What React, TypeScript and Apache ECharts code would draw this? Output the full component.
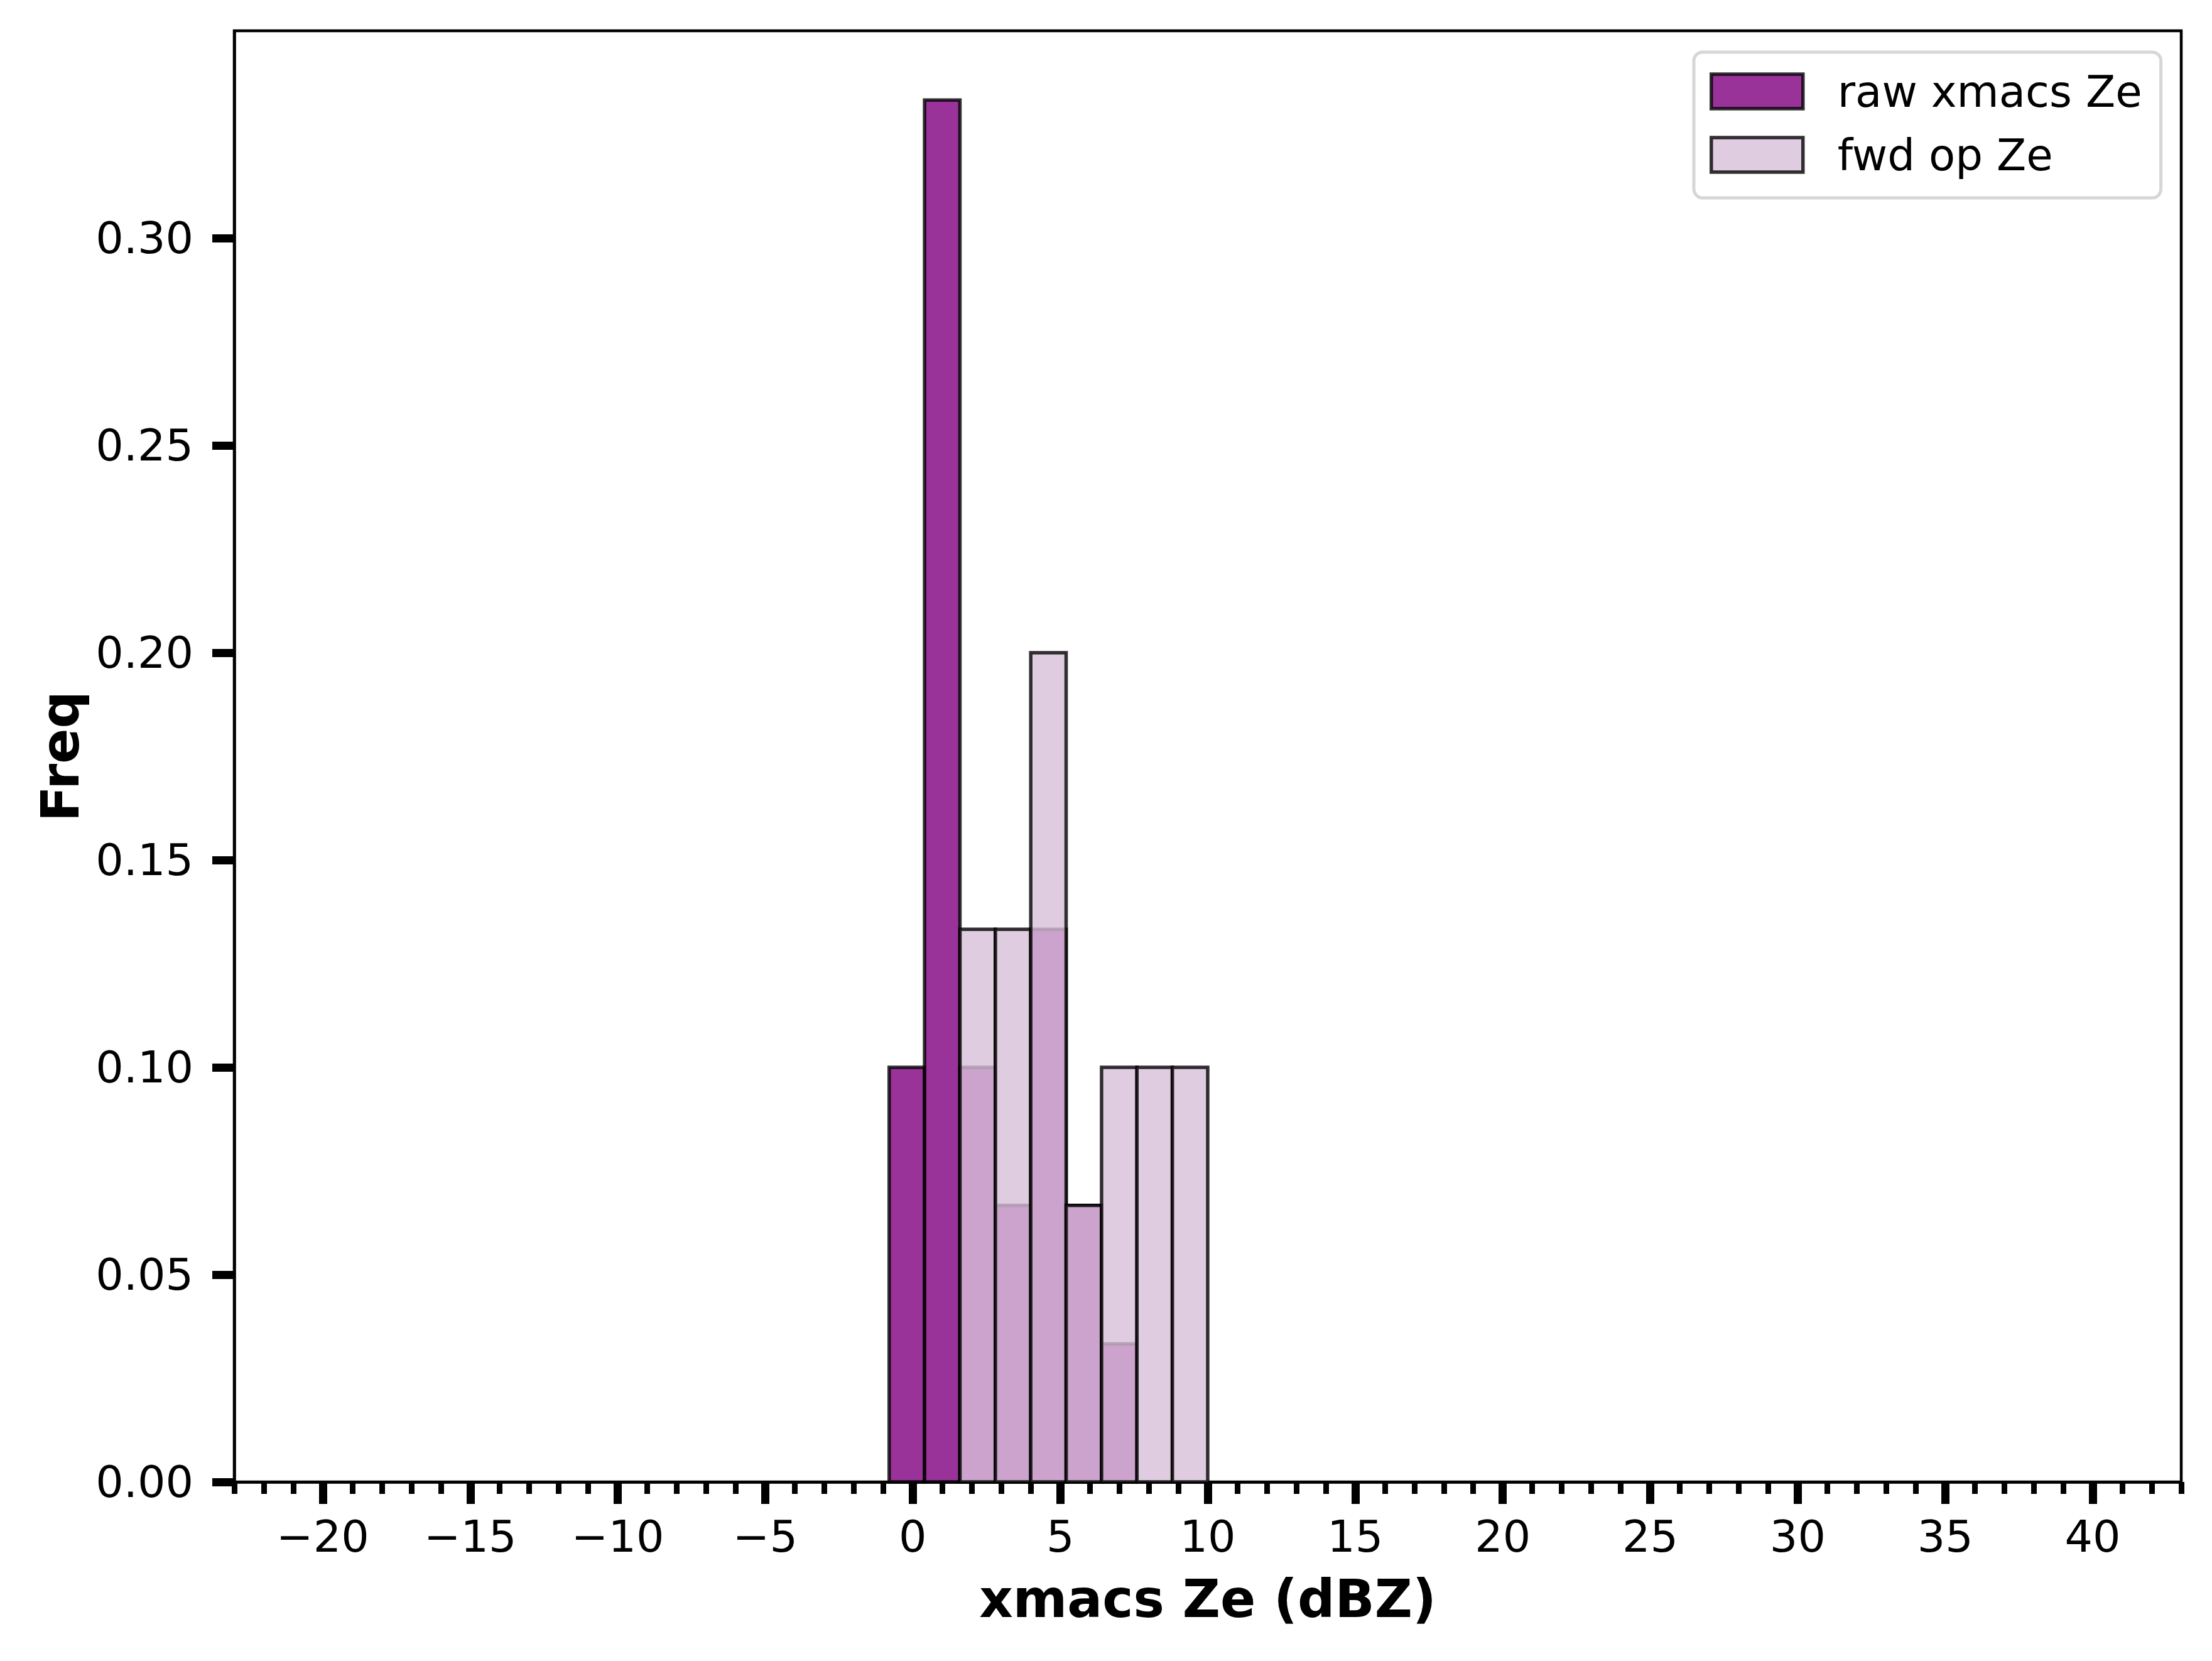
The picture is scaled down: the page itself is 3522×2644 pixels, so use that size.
import React, { useEffect, useRef } from "react";
import * as echarts from "echarts";

// Histogram bin edges (dBZ)
const binEdges = [-0.8, 0.4, 1.6, 2.8, 4.0, 5.2, 6.4, 7.6, 8.8, 10.0];
// Frequencies per bin
const rawFreq = [0.1, 0.3333, 0.1, 0.0667, 0.1333, 0.0667, 0.0333, 0, 0];
const fwdFreq = [0, 0, 0.1333, 0.1333, 0.2, 0.0667, 0.1, 0.1, 0.1];
// Tick values
const xMajorTicks = [-20, -15, -10, -5, 0, 5, 10, 15, 20, 25, 30, 35, 40];
const yTicks = [0, 0.05, 0.1, 0.15, 0.2, 0.25, 0.3];
const seriesNames = ["raw xmacs Ze", "fwd op Ze"];

const FONT = "DejaVu Sans";
const RAW_FILL = "rgba(128,0,128,0.8)";
const FWD_FILL = "rgba(216,191,216,0.8)";
const EDGE = "rgba(0,0,0,0.8)";

function toBins(freq: number[]) {
  return freq.map((f, i) => [binEdges[i], binEdges[i + 1], f]);
}

function makeRender(fill: string) {
  return (params: any, api: any) => {
    const x0 = api.value(0);
    const x1 = api.value(1);
    const y = api.value(2);
    if (!(y > 0)) return null;
    const p0 = api.coord([x0, y]);
    const p1 = api.coord([x1, 0]);
    return {
      type: "rect",
      shape: { x: p0[0], y: p0[1], width: p1[0] - p0[0], height: p1[1] - p0[1] },
      style: { fill, stroke: EDGE, lineWidth: 5.5 },
    };
  };
}

export default function App() {
  const ref = useRef<HTMLDivElement>(null);
  useEffect(() => {
    document.body.style.margin = "0";
    const chart = echarts.init(ref.current!, undefined, { renderer: "svg" });
    const fmt = (v: number) => (v < 0 ? "\u2212" + Math.abs(v) : String(v));
    chart.setOption({
      animation: false,
      backgroundColor: "#ffffff",
      textStyle: { fontFamily: FONT, color: "#000" },
      grid: {
        left: 373,
        top: 49,
        right: 49,
        bottom: 285,
        show: true,
        borderColor: "#000",
        borderWidth: 4.5,
        backgroundColor: "transparent",
      },
      legend: {
        orient: "vertical",
        left: 2697,
        top: 83,
        padding: [28, 30, 34, 25],
        itemGap: 32,
        itemWidth: 146,
        itemHeight: 55,
        icon: "rect",
        backgroundColor: "#ffffff",
        borderColor: "#d6d6d6",
        borderWidth: 5,
        borderRadius: 14,
        selectedMode: false,
        textStyle: {
          fontFamily: FONT,
          fontSize: 69,
          color: "#000",
          padding: [0, 0, 0, 50],
          lineHeight: 55,
        },
        data: [
          {
            name: seriesNames[0],
            itemStyle: { color: RAW_FILL, borderColor: EDGE, borderWidth: 5.5 },
          },
          {
            name: seriesNames[1],
            itemStyle: { color: FWD_FILL, borderColor: EDGE, borderWidth: 5.5 },
          },
        ],
      },
      xAxis: [
        {
          type: "value",
          min: -23,
          max: 43,
          name: "xmacs Ze (dBZ)",
          nameLocation: "middle",
          nameGap: 145,
          nameTextStyle: { fontFamily: FONT, fontSize: 83, fontWeight: "bold", color: "#000" },
          axisLine: { show: true, onZero: false, lineStyle: { color: "#000", width: 4.5 } },
          axisTick: {
            show: true,
            customValues: xMajorTicks,
            length: 35,
            lineStyle: { color: "#000", width: 13 },
          },
          axisLabel: {
            customValues: xMajorTicks,
            formatter: fmt,
            fontFamily: FONT,
            fontSize: 70,
            color: "#000",
            margin: 52,
          },
          splitLine: { show: false },
        },
        {
          type: "value",
          min: -23,
          max: 43,
          interval: 1,
          position: "bottom",
          axisLine: { show: false, onZero: false },
          axisTick: { show: true, length: 19, lineStyle: { color: "#000", width: 9 } },
          axisLabel: { show: false },
          splitLine: { show: false },
        },
      ],
      yAxis: {
        type: "value",
        min: 0,
        max: 0.35,
        name: "Freq",
        nameLocation: "middle",
        nameGap: 235,
        nameRotate: 90,
        nameTextStyle: { fontFamily: FONT, fontSize: 83, fontWeight: "bold", color: "#000" },
        axisLine: { show: true, onZero: false, lineStyle: { color: "#000", width: 4.5 } },
        axisTick: {
          show: true,
          customValues: yTicks,
          length: 35,
          lineStyle: { color: "#000", width: 13 },
        },
        axisLabel: {
          customValues: yTicks,
          formatter: (v: number) => v.toFixed(2),
          fontFamily: FONT,
          fontSize: 70,
          color: "#000",
          margin: 65,
        },
        splitLine: { show: false },
      },
      series: [
        {
          name: seriesNames[0],
          type: "custom",
          xAxisIndex: 0,
          yAxisIndex: 0,
          renderItem: makeRender(RAW_FILL),
          encode: { x: [0, 1], y: 2 },
          data: toBins(rawFreq),
          itemStyle: { color: RAW_FILL },
          z: 2,
        },
        {
          name: seriesNames[1],
          type: "custom",
          xAxisIndex: 0,
          yAxisIndex: 0,
          renderItem: makeRender(FWD_FILL),
          encode: { x: [0, 1], y: 2 },
          data: toBins(fwdFreq),
          itemStyle: { color: FWD_FILL },
          z: 3,
        },
      ],
    });
    return () => chart.dispose();
  }, []);
  return <div ref={ref} style={{ width: 3522, height: 2644 }} />;
}
